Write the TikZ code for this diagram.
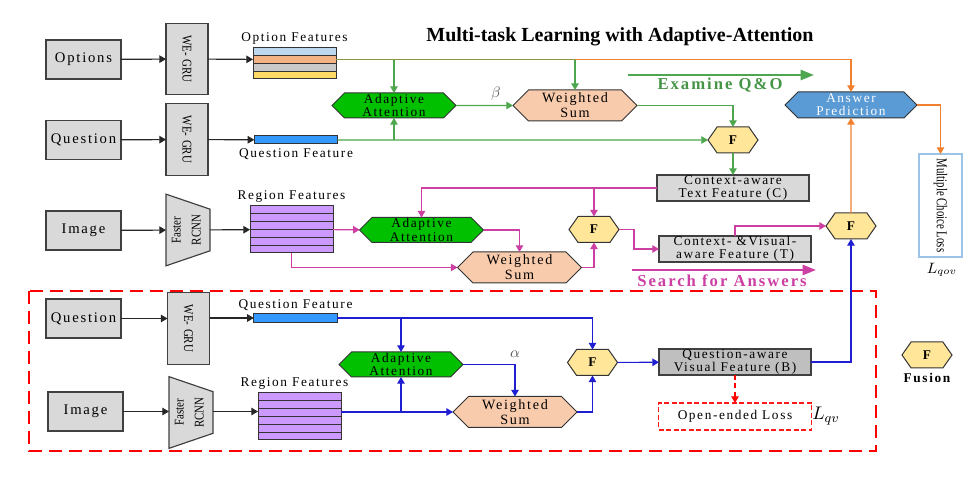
\documentclass[tikz,border=0pt]{standalone}
\usepackage{fontspec}
\usepackage{graphicx}
\setmainfont{Liberation Serif}[LetterSpace=12]
\newfontfamily\plainserif{Liberation Serif}
\usetikzlibrary{
    arrows.meta,
    shapes.symbols,
    positioning,
    backgrounds
}
\definecolor{boxgray}{HTML}{D9D9D9}
\definecolor{boxdark}{HTML}{BFBFBF}
\definecolor{attgreen}{HTML}{00C000}
\definecolor{sumpeach}{HTML}{F8CBAD}
\definecolor{fuseyellow}{HTML}{FFE699}
\definecolor{predblue}{HTML}{5B9BD5}
\definecolor{qfblue}{HTML}{3399FF}
\definecolor{regpurple}{HTML}{CC99FF}
\definecolor{optblue}{HTML}{BDD7EE}
\definecolor{optorange}{HTML}{F4B183}
\definecolor{optgray}{HTML}{C9C9C9}
\definecolor{optyellow}{HTML}{FFD966}
\definecolor{linegreen}{HTML}{4EA64E}
\definecolor{linemag}{HTML}{CC3FA3}
\definecolor{lineblue}{HTML}{1F1FD1}
\definecolor{lineorange}{HTML}{F08030}
\definecolor{lossblue}{HTML}{9DC3E6}
\newcommand{\narrowtext}[1]{\scalebox{0.82}[1]{\plainserif #1}}

\begin{document}
\begin{tikzpicture}[x=0.6pt, y=-0.6pt,
        every node/.style={font=\fontsize{8}{8}\selectfont, align=center, inner sep=0pt, outer sep=0pt},
        inbox/.style={draw=black!75, fill=boxgray, line width=0.7pt, minimum width=45pt, minimum height=23.4pt, font=\fontsize{8.8}{9}\selectfont},
        grubox/.style={draw=black!75, fill=boxgray, line width=0.7pt, minimum width=25.2pt, minimum height=43pt},
        rcnnbox/.style={minimum width=26.4pt, minimum height=43pt},
        optrow/.style={draw=black!80, line width=0.6pt, minimum width=49.8pt, minimum height=4.65pt},
        regrow/.style={draw=black!80, fill=regpurple, line width=0.6pt, minimum width=49.8pt, minimum height=4.7pt},
        qbar/.style={draw=black!80, fill=qfblue, line width=0.6pt, minimum width=50pt, minimum height=5.2pt},
        hexa/.style={shape=signal, signal to=east and west, draw=black!80, line width=0.6pt},
        attn/.style={hexa, fill=attgreen, minimum width=74.4pt, minimum height=15pt},
        wsum/.style={hexa, fill=sumpeach, minimum width=74.4pt, minimum height=18.6pt, font=\fontsize{8.5}{9}\selectfont},
        fuse/.style={hexa, fill=fuseyellow, signal pointer angle=110, minimum width=30pt, minimum height=15.6pt, font=\fontsize{8}{8}\selectfont\bfseries},
        featbox/.style={draw=black!75, fill=boxgray, line width=0.7pt, minimum width=91.2pt, minimum height=15.6pt},
        caption/.style={font=\fontsize{8}{8}\selectfont},
        conn/.style={line width=0.7pt, -{Triangle[length=4pt,width=4.5pt]}},
        blackarr/.style={conn, draw=black!85},
        greenarr/.style={conn, draw=linegreen},
        magarr/.style={conn, draw=linemag},
        bluearr/.style={conn, draw=lineblue},
        orangearr/.style={conn, draw=lineorange},
        bigarr/.style={line width=1.4pt, -{Triangle[length=8pt,width=6pt]}},
        greek/.style={font=\fontsize{9}{9}\selectfont, text=black!65}
    ]
    \useasboundingbox (0,0) rectangle (977,482);

    % title
    \node[font=\plainserif\fontsize{12}{12}\selectfont\bfseries] (title) at (620,37) {Multi-task Learning with Adaptive-Attention};

    % upper branch: inputs
    \node[inbox] (options) at (83.5,59.5) {Options};
    \node[inbox] (question1) at (83.5,140) {Question};
    \node[inbox] (image1) at (83.5,230.5) {Image};
    \node[grubox] (gru1) at (187,59) {\rotatebox{-90}{\narrowtext{WE-\,\,GRU}}};
    \node[grubox] (gru2) at (187,139.5) {\rotatebox{-90}{\narrowtext{WE-\,\,GRU}}};
    \node[rcnnbox] (rcnn1) at (188,230) {\rotatebox{90}{\narrowtext{\begin{tabular}{@{}c@{}}Faster\\[4pt]RCNN\end{tabular}}}};

    % option features
    \node[minimum width=49.8pt, minimum height=18.6pt] (optf) at (294.5,63.5) {};
    \node[optrow, fill=optblue, below=0pt of optf.north] (opt1) {};
    \node[optrow, fill=optorange, below=0pt of opt1] (opt2) {};
    \node[optrow, fill=optgray, below=0pt of opt2] (opt3) {};
    \node[optrow, fill=optyellow, below=0pt of opt3] (opt4) {};
    \node[caption, above=2pt of optf] (optlabel) {Option Features};

    % question feature
    \node[qbar, minimum height=4.8pt] (qf1) at (296,140) {};
    \node[caption, below=3pt of qf1] (qf1label) {Question Feature};

    % region features
    \node[minimum width=49.8pt, minimum height=28.2pt] (reg1) at (291.5,229.5) {};
    \node[regrow, below=0pt of reg1.north] (reg1a) {};
    \node[regrow, below=0pt of reg1a] (reg1b) {};
    \node[regrow, below=0pt of reg1b] (reg1c) {};
    \node[regrow, below=0pt of reg1c] (reg1d) {};
    \node[regrow, below=0pt of reg1d] (reg1e) {};
    \node[regrow, below=0pt of reg1e] (reg1f) {};
    \node[caption, above=2pt of reg1] (reg1label) {Region Features};

    % attention and fusion (upper)
    \node[attn] (aa1) at (394,105.5) {Adaptive\\Attention};
    \node[wsum] (ws1) at (575,105.5) {Weighted\\Sum};
    \node[fuse] (f1) at (733,140) {F};
    \node[featbox] (ctx) at (733,188) {Context-aware\\Text Feature (C)};
    \node[attn] (aa2) at (421.5,230) {Adaptive\\Attention};
    \node[wsum] (ws2) at (519.5,267.5) {Weighted\\Sum};
    \node[fuse] (f2) at (594,229.5) {F};
    \node[featbox] (ctxvis) at (735,249) {Context- \&Visual-\\aware Feature (T)};
    \node[fuse] (f3) at (851,226) {F};
    \node[hexa, fill=predblue, minimum width=79.2pt, minimum height=15.6pt, text=white] (ansp) at (851,105) {Answer\\Prediction};
    \node[draw=lossblue, fill=white, line width=0.8pt, minimum width=25.8pt, minimum height=61.8pt, font=\fontsize{9}{9}\selectfont] (mcl) at (940.5,205.5) {\rotatebox{-90}{\scalebox{0.72}[1]{\plainserif Multiple Choice Loss}}};
    \node[font=\fontsize{9}{9}\selectfont] (lqov) at (942,270) {$L_{qov}$};

    % lower branch
    \node[inbox] (question2) at (83.5,318.5) {Question};
    \node[inbox] (image2) at (85.5,411.5) {Image};
    \node[grubox] (gru3) at (188.5,328.5) {\rotatebox{-90}{\narrowtext{WE-\,\,GRU}}};
    \node[rcnnbox] (rcnn2) at (191,412.5) {\rotatebox{90}{\narrowtext{\begin{tabular}{@{}c@{}}Faster\\[4pt]RCNN\end{tabular}}}};
    \node[qbar] (qf2) at (295.5,318) {};
    \node[caption, above=2pt of qf2] (qf2label) {Question Feature};
    \node[minimum width=49.8pt, minimum height=28.2pt] (reg2) at (299.5,416.5) {};
    \node[regrow, below=0pt of reg2.north] (reg2a) {};
    \node[regrow, below=0pt of reg2a] (reg2b) {};
    \node[regrow, below=0pt of reg2b] (reg2c) {};
    \node[regrow, below=0pt of reg2c] (reg2d) {};
    \node[regrow, below=0pt of reg2d] (reg2e) {};
    \node[regrow, below=0pt of reg2e] (reg2f) {};
    \node[caption, above=2pt of reg2, xshift=-3pt] (reg2label) {Region Features};
    \node[attn] (aa3) at (401,364.5) {Adaptive\\Attention};
    \node[wsum] (ws3) at (515,412) {Weighted\\Sum};
    \node[fuse] (f4) at (592.5,362.5) {F};
    \node[featbox, fill=boxdark] (qvis) at (735,362) {Question-aware\\Visual Feature (B)};
    \node[draw=red!90, dash pattern=on 3pt off 1.5pt, line width=0.8pt, fill=white, minimum width=91.8pt, minimum height=16.2pt] (oel) at (735,416.5) {Open-ended Loss};
    \node[font=\fontsize{11}{11}\selectfont] (lqv) at (826,416) {$L_{qv}$};

    % legend
    \node[fuse] (legf) at (927,355) {F};
    \node[font=\fontsize{8}{8}\selectfont\bfseries, below=3pt of legf] (fusion) {Fusion};

    % trapezoids behind the rcnn labels
    \begin{scope}[on background layer]
        \draw[draw=black!75, fill=boxgray, line width=0.7pt] (rcnn1.north west) -- ([yshift=-9pt]rcnn1.north east) -- ([yshift=9pt]rcnn1.south east) -- (rcnn1.south west) -- cycle;
        \draw[draw=black!75, fill=boxgray, line width=0.7pt] (rcnn2.north west) -- ([yshift=-9pt]rcnn2.north east) -- ([yshift=9pt]rcnn2.south east) -- (rcnn2.south west) -- cycle;
    \end{scope}

    % dashed frame of the open-ended task
    \draw[red, line width=1.2pt, dash pattern=on 8pt off 4pt] (29,291) rectangle (876,451);

    % big arrows with captions
    \coordinate (exam-s) at (628,75);
    \coordinate (exam-e) at (814,75);
    \draw[bigarr, draw=linegreen] (exam-s) -- (exam-e);
    \node[font=\fontsize{10}{10}\selectfont\bfseries, text=linegreen!90!black] (examine) at (720,85) {Examine Q\&O};
    \coordinate (search-s) at (632,270);
    \coordinate (search-e) at (816,270);
    \draw[bigarr, draw=linemag] (search-s) -- (search-e);
    \node[font=\fontsize{10}{10}\selectfont\bfseries, text=linemag] (search) at (722,281) {Search for Answers};

    % black connectors
    \draw[blackarr] (options) -- (gru1);
    \draw[blackarr] (gru1) -- (opt2);
    \draw[blackarr] (question1) -- (gru2);
    \draw[blackarr] (gru2) -- (qf1);
    \draw[blackarr] (image1) -- (rcnn1);
    \draw[blackarr] (rcnn1) -- (reg1);
    \draw[blackarr] (question2) -- (gru3.west |- question2);
    \draw[blackarr] (gru3.east |- qf2) -- (qf2);
    \draw[blackarr] (image2) -- (rcnn2.west |- image2);
    \draw[blackarr] (rcnn2.east |- image2) -- (reg2.west |- image2);

    % orange connectors
    \draw[orangearr] (opt2.east) -| (ansp.north);
    \draw[orangearr] (f3) -- (ansp);
    \draw[orangearr] (ansp.east) -| (mcl.north);

    % green connectors
    \draw[linegreen, line width=0.7pt, opacity=0.6] (opt2.east) -- (opt2 -| ws1);
    \draw[greenarr] (opt2 -| aa1) -- (aa1.north);
    \draw[greenarr] (opt2 -| ws1) -- (ws1.north);
    \draw[greenarr] (qf1) -- (f1);
    \draw[greenarr] (qf1 -| aa1) -- (aa1.south);
    \draw[greenarr] (aa1) -- node[greek, pos=0.7, above=3pt] {$\beta$} (ws1);
    \draw[greenarr] (ws1.east) -| (f1.north);
    \draw[greenarr] (f1) -- (ctx);

    % magenta connectors
    \draw[magarr] (ctx.west) -| (aa2.north);
    \draw[magarr] (ctx.west -| f2) -- (f2.north);
    \draw[magarr] (reg1) -- (aa2);
    \draw[magarr] (reg1.south) |- (ws2.west);
    \draw[magarr] (aa2.east) -| (ws2.north);
    \draw[magarr] (ws2.east) -| (f2.south);
    \draw[magarr] (f2.east) -- ++(15,0) |- (ctxvis.west);
    \draw[magarr] (ctxvis.north) |- (f3.west);

    % blue connectors
    \draw[bluearr] (qf2.east) -| (f4.north);
    \draw[bluearr] (qf2 -| aa3) -- (aa3.north);
    \draw[bluearr] (aa3.east) -| node[greek, pos=0.5, above=4pt] {$\alpha$} (ws3.north);
    \draw[bluearr] (reg2.east |- ws3) -- (ws3.west);
    \draw[bluearr] (reg2.east |- ws3) -| (aa3.south);
    \draw[bluearr] (ws3.east) -| (f4.south);
    \draw[bluearr] (f4) -- (qvis);
    \draw[bluearr] (qvis.east) -| (f3.south);
    \draw[conn, draw=red, dash pattern=on 3pt off 2pt] (qvis) -- (oel);
\end{tikzpicture}
\end{document}
